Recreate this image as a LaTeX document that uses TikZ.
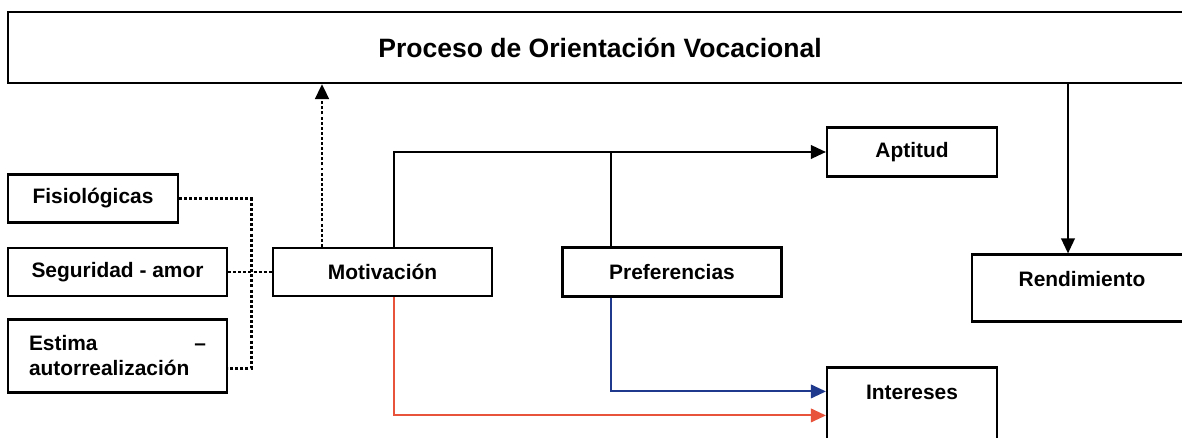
\documentclass[tikz,border=0pt]{standalone}
\usepackage{fontspec}
\setmainfont{Liberation Sans}
\usetikzlibrary{arrows.meta}
\definecolor{prefblue}{HTML}{1F3A8C}
\definecolor{motivred}{HTML}{E8533C}
\newdimen\boxwidth
\newdimen\smallwidth
\boxwidth=43.8mm
\smallwidth=34mm
\begin{document}
\begin{tikzpicture}[
    >={Triangle[length=3mm,width=2.7mm]},
    box/.style={draw,line width=1.2pt,minimum width=\boxwidth,minimum height=9.6mm,font=\fontsize{11.9}{14.2}\selectfont\bfseries},
    smallbox/.style={box,minimum width=\smallwidth},
    topbox/.style={draw,line width=1.2pt,minimum width=236.8mm,minimum height=14.2mm,font=\fontsize{15.1}{18}\selectfont\bfseries},
    link/.style={line width=1.2pt},
    dotlink/.style={line width=1.7pt,dash pattern=on 1.7pt off 1.2pt},
]
    \useasboundingbox (0,0) rectangle (236.4mm,-87.6mm);
    \clip (0,0) rectangle (236.4mm,-87.6mm);

    \node [topbox] (proceso) at (120mm,-9.5mm) {Proceso de Orientación Vocacional};
    \path (proceso) ++(-43.5mm,-44.9mm) node [box] (motiv) {Motivación};
    \path (motiv) ++(-53mm,0) node [box,align=left] (segur) {Seguridad - amor};
    \path (segur) ++(-4.9mm,14.7mm) node [smallbox] (fisio) {Fisiológicas};
    \path (segur) ++(0,-16.8mm) node [box,text width=35.4mm,inner xsep=4.2mm,minimum height=14.6mm,align=left] (estima) {Estima \hfill –\\autorrealización};
    \path (motiv) ++(57.9mm,0) node [box,minimum height=9.8mm] (pref) {Preferencias};
    \path (pref) ++(48mm,24mm) node [smallbox,minimum height=9.8mm] (aptitud) {Aptitud};
    \path (aptitud) ++(0,-50.4mm) node [smallbox,inner sep=0pt,text height=6.4mm,text depth=8.2mm] (interes) {Intereses};
    \path (aptitud) ++(34mm,-27.2mm) node [box,minimum width=44mm,inner sep=0pt,text height=6.4mm,text depth=7mm] (rendim) {Rendimiento};

    \draw [dotlink] (fisio.east) -- ++(14.4mm,0) coordinate (bus) |- ([yshift=-2.5mm]estima.east);
    \draw [dotlink] (segur) -- (motiv);
    \draw [dotlink,->] ([xshift=-12.1mm]motiv.north) -- ([xshift=-12.1mm]motiv.north |- proceso.south);

    \draw [link,->] ([xshift=2.3mm]motiv.north) |- (aptitud.west);
    \draw [link] ([xshift=-12.2mm]pref.north) -- ([xshift=-12.2mm]pref.north |- aptitud.west);
    \draw [link,->] ([xshift=-2.8mm]rendim.north |- proceso.south) -- ([xshift=-2.8mm]rendim.north);

    \draw [link,prefblue,->] ([xshift=-12.2mm]pref.south) |- ([yshift=-5mm]interes.north west);
    \draw [link,motivred,->] ([xshift=2.3mm]motiv.south) |- ([yshift=-9.8mm]interes.north west);

\end{tikzpicture}
\end{document}
